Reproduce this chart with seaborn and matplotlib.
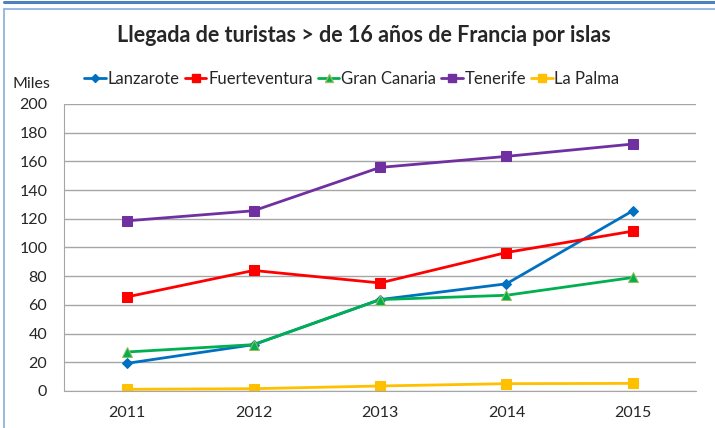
import pandas as pd
import matplotlib.pyplot as plt
import seaborn as sns
from matplotlib.lines import Line2D

# datos (miles de turistas)
anios = ['2011', '2012', '2013', '2014', '2015']
lanzarote = [19.3, 32.3, 63.7, 74.7, 125.6]
fuerteventura = [65.6, 84.0, 75.3, 96.5, 111.4]
gran_canaria = [27.2, 32.3, 63.7, 66.7, 79.1]
tenerife = [118.6, 125.6, 155.8, 163.5, 172.1]
la_palma = [1.2, 1.6, 3.5, 5.1, 5.3]

islas = ['Lanzarote', 'Fuerteventura', 'Gran Canaria', 'Tenerife', 'La Palma']
valores = [lanzarote, fuerteventura, gran_canaria, tenerife, la_palma]

colores = {
    'Lanzarote': '#0070C0',
    'Fuerteventura': '#FF0000',
    'Gran Canaria': '#00B050',
    'Tenerife': '#7030A0',
    'La Palma': '#FFC000',
}
marcadores = {
    'Lanzarote': 'D',
    'Fuerteventura': 's',
    'Gran Canaria': '^',
    'Tenerife': 's',
    'La Palma': 's',
}
tam_marcador = {'Lanzarote': 5.5, 'Fuerteventura': 7.5, 'Gran Canaria': 7,
                'Tenerife': 7.5, 'La Palma': 7.5}
borde = {'Gran Canaria': '#9BBB59'}

df = pd.DataFrame({
    'anio': anios * len(islas),
    'isla': [i for i in islas for _ in anios],
    'valor': [v for serie in valores for v in serie],
})

sns.set_style('white')
plt.rcParams['font.family'] = ['Lato', 'DejaVu Sans']

fig = plt.figure(figsize=(7.15, 4.28), dpi=100)
ax = fig.add_axes([64 / 715, 1 - 391 / 428, 632 / 715, 287 / 428])

for isla in islas:
    sub = df[df['isla'] == isla]
    sns.lineplot(x='anio', y='valor', data=sub, ax=ax, color=colores[isla],
                 marker=marcadores[isla], markersize=tam_marcador[isla],
                 markeredgecolor=borde.get(isla, colores[isla]),
                 linewidth=2.0, label=isla, legend=False)

ax.set_xlim(-0.5, 4.5)
ax.set_ylim(0, 200)
ax.set_yticks(range(0, 201, 20))
ax.set_xlabel('')
ax.set_ylabel('')
ax.grid(axis='y', color='#A6A6A6', linewidth=1.0)
ax.grid(axis='x', visible=False)
for lado in ['top', 'right']:
    ax.spines[lado].set_visible(False)
ax.spines['left'].set_color('#A6A6A6')
ax.spines['bottom'].set_color('#A6A6A6')
ax.tick_params(axis='y', length=0, pad=12, labelsize=11.5)
ax.tick_params(axis='x', length=0, pad=11, labelsize=11.5)

# leyenda en una fila
manejadores = [Line2D([0], [0], color=colores[i], marker=marcadores[i],
                      markersize=tam_marcador[i] - 1.5,
                      markeredgecolor=borde.get(i, colores[i]), linewidth=2.0)
               for i in islas]
fig.legend(manejadores, islas, loc='center', bbox_to_anchor=(352 / 715, 1 - 79 / 428),
           ncol=5, frameon=False, fontsize=12, handlelength=1.3, handletextpad=0.1,
           columnspacing=0.3)

fig.text(364 / 715, 1 - 35 / 428, 'Llegada de turistas > de 16 años de Francia por islas',
         ha='center', va='center', fontsize=15.5, fontweight='bold')
fig.text(13 / 715, 1 - 84 / 428, 'Miles', ha='left', va='center', fontsize=11.5)

# marco del gráfico
fig.add_artist(Line2D([4 / 715, 1], [1 - 1.5 / 428] * 2, color='#4F81BD', linewidth=2.2))
fig.add_artist(Line2D([3.5 / 715, 1], [1 - 8.5 / 428] * 2, color='#8DB3E2', linewidth=1.3))
fig.add_artist(Line2D([3.5 / 715] * 2, [0, 1 - 8.5 / 428], color='#8DB3E2', linewidth=1.3))

fig.savefig('out.png', dpi=100)
